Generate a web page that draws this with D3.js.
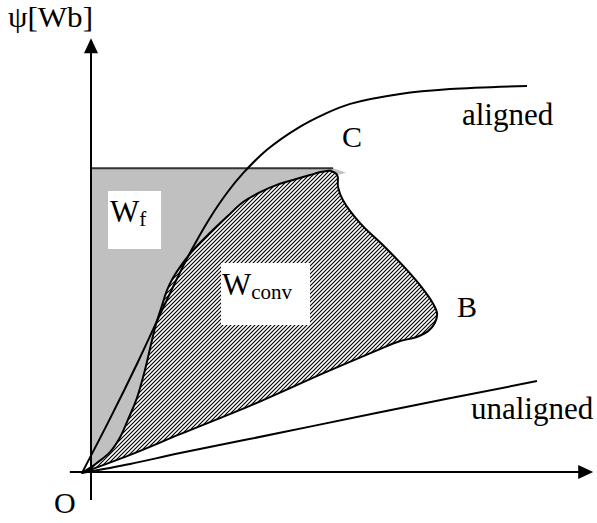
<!DOCTYPE html>
<html>
<head>
<meta charset="utf-8">
<script src="https://cdn.jsdelivr.net/npm/d3@7"></script>
<style>
  body { margin: 0; background: #fff; }
  svg { display: block; }
  text { font-family: "Liberation Serif", "Times New Roman", serif; fill: #000; }
</style>
</head>
<body>
<div id="chart"></div>
<script>
// flux linkage psi vs current i, in arbitrary units (0..100 on each axis)

// aligned magnetisation curve
const alignedCurve = [
  [-2.0, -0.2], [4.2, 11.8], [10.4, 24.4], [15.3, 34.9], [19.8, 44.4],
  [22.7, 50.0], [26.4, 56.4], [30.2, 62.0], [33.8, 66.4], [39.1, 71.6],
  [46.4, 76.7], [52.0, 79.6], [57.6, 81.8], [68.7, 84.0], [79.8, 85.1],
  [96.9, 85.8]
];

// unaligned magnetisation curve
const unalignedCurve = [
  [-2.0, -0.2], [8.7, 1.8], [19.8, 4.2], [42.0, 8.7], [64.2, 13.3], [99.1, 20.2]
];

// W_conv loop: from O up to the peak (near C)
const convUpper = [
  [-2.0, -0.2], [1.3, 2.0], [4.2, 4.4], [6.4, 7.6], [8.2, 11.6], [10.2, 16.4],
  [12.0, 22.7], [13.3, 28.2], [14.4, 32.7], [15.8, 37.1], [16.9, 40.4],
  [18.2, 43.1], [19.8, 45.6], [22.7, 49.3], [26.4, 53.1], [30.2, 56.7],
  [33.8, 60.0], [37.6, 62.2], [41.3, 63.8], [44.9, 64.9], [48.7, 66.0],
  [51.3, 66.7], [53.1, 67.0]
];

// W_conv loop: from the peak down to B and back to O
const convLower = [
  [53.1, 67.0], [54.7, 66.0], [54.9, 63.3], [56.0, 60.4], [59.8, 55.3],
  [65.3, 50.0], [70.2, 44.9], [73.6, 40.9], [75.8, 37.8], [76.9, 35.3],
  [76.4, 33.1], [74.9, 31.3], [72.4, 30.0], [68.7, 29.1], [64.2, 27.3],
  [52.2, 22.2], [36.2, 15.1], [19.8, 8.4], [8.7, 3.8], [-2.0, -0.2]
];

// constant flux level of the W_f rectangle
const psiTop = 67.5;
const iTopEnd = 53.8;
const topTail = [[56.7, 66.5], [54.7, 66.0]];

// axis extents
const iAxis = [-4.7, 111.6];
const psiAxis = [-6.2, 96.4];

const yLabel = "ψ[Wb]";
const pointLabels = ["C", "B", "O"];
const curveLabels = ["aligned", "unaligned"];

const width = 597, height = 523;

const svg = d3.select("#chart")
  .append("svg")
  .attr("width", width)
  .attr("height", height);

const x = d3.scaleLinear().domain([0, 100]).range([91, 541]);
const y = d3.scaleLinear().domain([0, 100]).range([472, 22]);

const defs = svg.append("defs");
const hatch = defs.append("pattern")
  .attr("id", "hatch")
  .attr("patternUnits", "userSpaceOnUse")
  .attr("width", 4)
  .attr("height", 4);
hatch.append("rect").attr("width", 4).attr("height", 4).attr("fill", "#fff");
hatch.append("path")
  .attr("d", "M-1,1 L1,-1 M0,4 L4,0 M3,5 L5,3")
  .attr("stroke", "#000")
  .attr("stroke-width", 1.15);

const line = d3.line()
  .x(d => x(d[0]))
  .y(d => y(d[1]))
  .curve(d3.curveCatmullRom.alpha(0.5));

// grey W_f region
const grey = "M" + x(0) + "," + y(psiTop) +
  "L" + x(iTopEnd) + "," + y(psiTop) +
  topTail.map(d => "L" + x(d[0]) + "," + y(d[1])).join("") +
  line(convUpper.slice().reverse()).replace(/^M/, "L") +
  "L" + x(0) + "," + y(0) + "Z";
svg.append("path")
  .attr("d", grey)
  .attr("fill", "#c0c0c0");

// hatched W_conv region
svg.append("path")
  .attr("d", line(convUpper) + line(convLower).replace(/^M/, "L") + "Z")
  .attr("fill", "url(#hatch)")
  .attr("stroke", "#000")
  .attr("stroke-width", 2)
  .attr("stroke-linejoin", "round");

// top line of W_f
svg.append("line")
  .attr("x1", x(0)).attr("x2", x(iTopEnd))
  .attr("y1", y(psiTop)).attr("y2", y(psiTop))
  .attr("stroke", "#333")
  .attr("stroke-width", 2);

// curves
[alignedCurve, unalignedCurve].forEach(c => {
  svg.append("path")
    .attr("d", line(c))
    .attr("fill", "none")
    .attr("stroke", "#000")
    .attr("stroke-width", 2);
});

// axes
svg.append("line")
  .attr("x1", x(iAxis[0])).attr("x2", x(iAxis[1]) - 14)
  .attr("y1", y(0)).attr("y2", y(0))
  .attr("stroke", "#000").attr("stroke-width", 2);
svg.append("path")
  .attr("d", `M${x(iAxis[1])},${y(0)} l-15,-7 l0,14 Z`)
  .attr("fill", "#000");
svg.append("line")
  .attr("x1", x(0)).attr("x2", x(0))
  .attr("y1", y(psiAxis[0])).attr("y2", y(psiAxis[1]) + 14)
  .attr("stroke", "#000").attr("stroke-width", 2);
svg.append("path")
  .attr("d", `M${x(0)},${y(psiAxis[1])} l-7,15 l14,0 Z`)
  .attr("fill", "#000");

// white label boxes
svg.append("rect").attr("x", 108).attr("y", 191).attr("width", 53).attr("height", 58).attr("fill", "#fff");
svg.append("rect").attr("x", 221).attr("y", 263).attr("width", 89).attr("height", 62).attr("fill", "#fff");

const wf = svg.append("text").attr("x", 110).attr("y", 222).attr("font-size", 31);
wf.append("tspan").text("W");
wf.append("tspan").attr("font-size", 21).attr("dy", 4).text("f");

const wc = svg.append("text").attr("x", 222).attr("y", 295).attr("font-size", 31);
wc.append("tspan").text("W");
wc.append("tspan").attr("font-size", 21).attr("dy", 4).text("conv");

// labels
svg.append("text").attr("x", 8).attr("y", 27).attr("font-size", 29)
  .attr("textLength", 85).attr("lengthAdjust", "spacingAndGlyphs").text(yLabel);
svg.append("text").attr("x", 342).attr("y", 147).attr("font-size", 30).text(pointLabels[0]);
svg.append("text").attr("x", 457).attr("y", 317).attr("font-size", 30).text(pointLabels[1]);
svg.append("text").attr("x", 54).attr("y", 513).attr("font-size", 30).text(pointLabels[2]);
svg.append("text").attr("x", 462).attr("y", 125).attr("font-size", 31).text(curveLabels[0]);
svg.append("text").attr("x", 471).attr("y", 419).attr("font-size", 31).text(curveLabels[1]);
</script>
</body>
</html>
